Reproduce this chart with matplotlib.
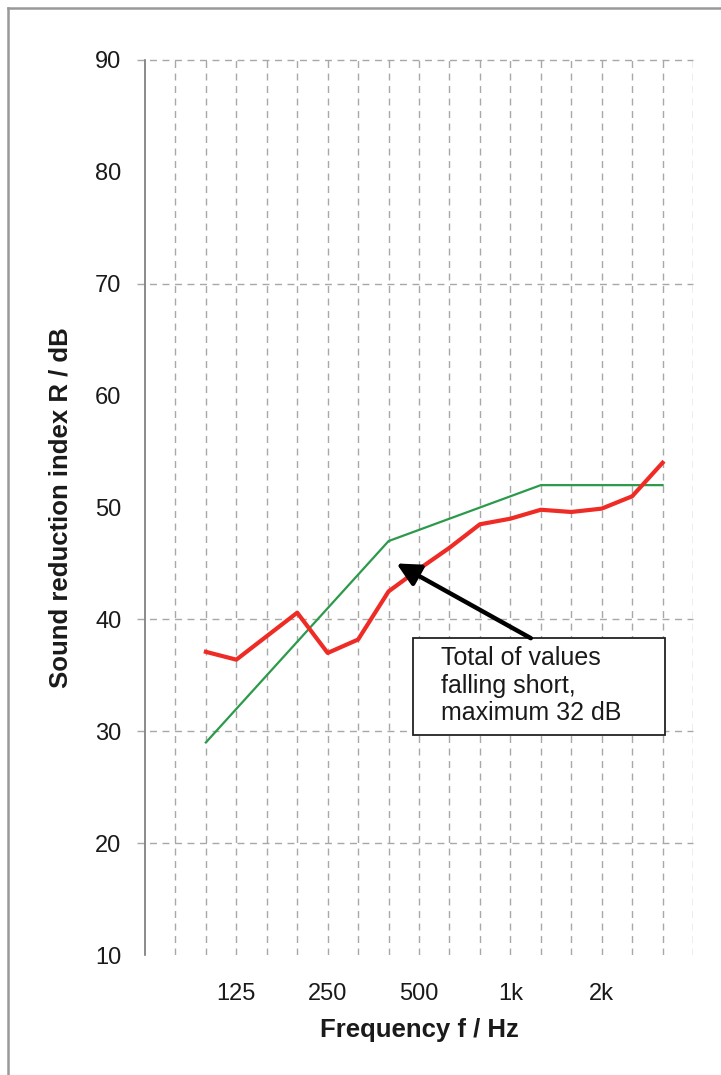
import matplotlib.pyplot as plt
import matplotlib.lines as mlines
import matplotlib.patches as mpatches
import matplotlib.transforms as mtransforms
import numpy as np

plt.rcParams['font.family'] = ['Liberation Sans', 'DejaVu Sans']
plt.rcParams['lines.scale_dashes'] = False

# Third-octave bands 100 Hz .. 3150 Hz
bands = ["100", "125", "160", "200", "250", "315", "400", "500",
         "630", "800", "1000", "1250", "1600", "2000", "2500", "3150"]
# Measured sound reduction index R (dB)
measured = [37.1, 36.4, 38.5, 40.6, 37.0, 38.2, 42.5, 44.5,
            46.4, 48.5, 49.0, 49.8, 49.6, 49.9, 51.0, 54.0]
# Shifted reference curve (dB)
reference = [29, 32, 35, 38, 41, 44, 47, 48,
             49, 50, 51, 52, 52, 52, 52, 52]

tick_bands = ["125", "250", "500", "1000", "2000"]
tick_labels = ["125", "250", "500", "1k", "2k"]
y_ticks = [10, 20, 30, 40, 50, 60, 70, 80, 90]
y_grid = [20, 30, 40, 70, 90]

note = "Total of values\nfalling short,\nmaximum 32 dB"
arrow_tip = (6.26, 45.0)

x = np.arange(len(bands))

fig = plt.figure(figsize=(7.21, 10.75), dpi=100)
ax = fig.add_axes([0.2011, 0.1116, 0.7601, 0.8326])

ax.set_xlim(-2, 16)
ax.set_ylim(10, 90)

grid_kw = dict(color="#a8a8a8", lw=1.0, linestyle=(0, (5, 4)))

# vertical band lines, one per third-octave from 80 Hz to 4 kHz
for xv in range(-1, 17):
    ax.axvline(xv, zorder=1, **grid_kw)

# horizontal lines (extend a little left of the axis like ticks)
trans = mtransforms.blended_transform_factory(ax.transAxes, ax.transData)
for yv in y_grid:
    ax.plot([-0.014, 1.0], [yv, yv], transform=trans, clip_on=False,
            zorder=1, **grid_kw)

ax.plot(x, reference, color="#2b9a4a", lw=1.6, zorder=3)
ax.plot(x, measured, color="#ef2b25", lw=3.0, zorder=4,
        solid_joinstyle="round")

# annotation box + arrow
box = mpatches.Rectangle((0.489, 0.2458), 0.460, 0.1084,
                         transform=ax.transAxes, facecolor="white",
                         edgecolor="#222222", lw=1.3, zorder=5)
ax.add_patch(box)
ax.text(0.540, 0.3455, note, transform=ax.transAxes, ha="left", va="top",
        fontsize=18, color="#1a1a1a", linespacing=1.2, zorder=6)
ax.annotate("", xy=arrow_tip, xycoords="data",
            xytext=(0.704, 0.354), textcoords="axes fraction",
            arrowprops=dict(arrowstyle="-|>,head_length=0.7,head_width=0.35",
                            color="black", lw=3.2, mutation_scale=20,
                            shrinkA=0, shrinkB=0),
            zorder=6)

ax.set_xticks([bands.index(b) for b in tick_bands])
ax.set_xticklabels(tick_labels)
ax.set_yticks(y_ticks)
ax.tick_params(axis="both", length=0, labelsize=17, colors="#1a1a1a")
ax.tick_params(axis="x", pad=20)
ax.tick_params(axis="y", pad=17)

for side in ["top", "right", "bottom"]:
    ax.spines[side].set_visible(False)
ax.spines["left"].set_color("#777777")
ax.spines["left"].set_linewidth(1.2)

ax.set_xlabel("Frequency f / Hz", fontsize=18.5, fontweight="bold",
              color="#1a1a1a")
ax.xaxis.set_label_coords(0.5, -0.0838)
ax.xaxis.label.set_va("center")
ax.set_ylabel("Sound reduction index R / dB", fontsize=18.5,
              fontweight="bold", color="#1a1a1a")
ax.yaxis.set_label_coords(-0.155, 0.5)
ax.yaxis.label.set_va("center")

# page frame (top and left edges)
fig.add_artist(mlines.Line2D([8 / 721, 1.0], [1 - 8 / 1075, 1 - 8 / 1075],
                             transform=fig.transFigure, color="#999999",
                             lw=1.8))
fig.add_artist(mlines.Line2D([8 / 721, 8 / 721], [0.0, 1 - 8 / 1075],
                             transform=fig.transFigure, color="#999999",
                             lw=1.8))

fig.savefig("out.png", dpi=100)
